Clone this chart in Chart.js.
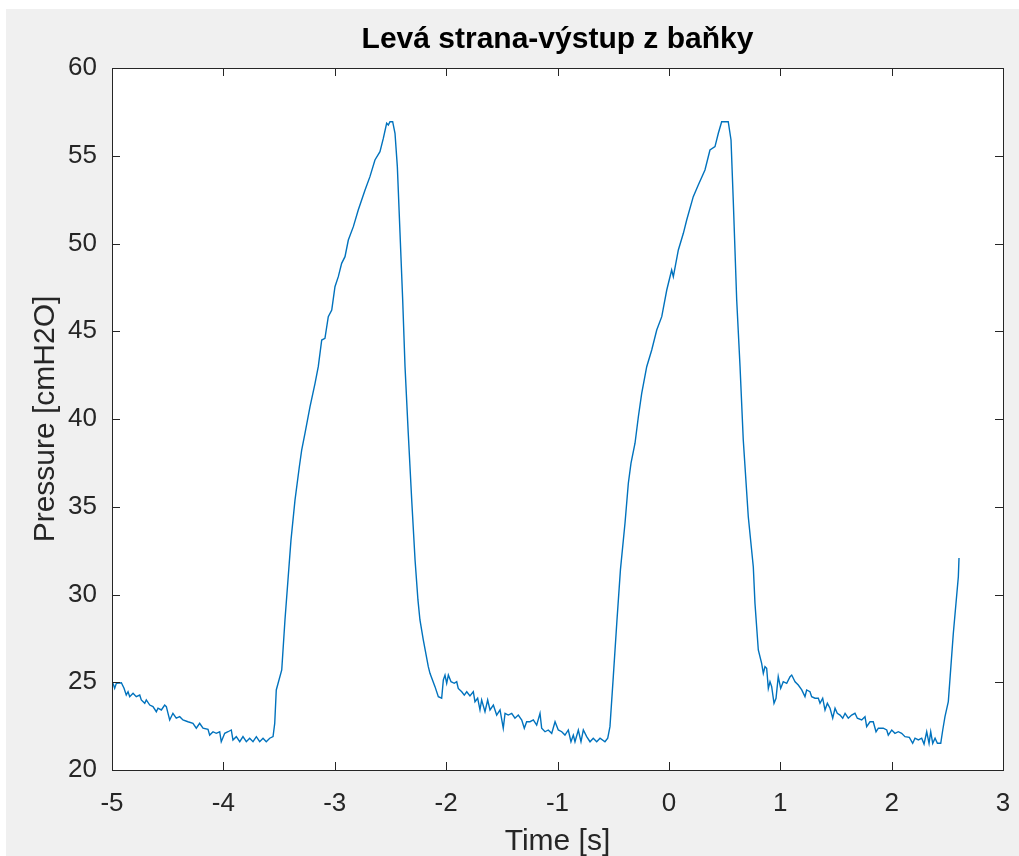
<!DOCTYPE html>
<html>
<head>
<meta charset="utf-8">
<title>Levá strana-výstup z baňky</title>
<script src="https://cdn.jsdelivr.net/npm/chart.js@4.4.0/dist/chart.umd.min.js"></script>
<style>
html, body { margin: 0; padding: 0; background: #fff; }
#wrap { position: absolute; left: 6px; top: 9px; width: 1013px; height: 847px; background: #f0f0f0; }
</style>
</head>
<body>
<div id="wrap"><canvas id="chart" width="1013" height="847"></canvas></div>
<script>
// cas [s]
const timeS = [
  // klidova faze 1
  -5.000,-4.991,-4.976,-4.961,-4.916,-4.892,-4.872,-4.856,-4.841,-4.811,
  -4.782,-4.751,-4.737,-4.706,-4.692,-4.661,-4.632,-4.602,-4.587,-4.557,
  -4.527,-4.512,-4.497,-4.482,-4.453,-4.423,-4.392,-4.363,-4.318,-4.273,
  -4.243,-4.213,-4.183,-4.138,-4.123,-4.093,-4.064,-4.033,-4.019,-3.988,
  -3.958,-3.929,-3.914,-3.884,-3.853,-3.824,-3.794,-3.764,-3.734,-3.704,
  -3.674,-3.644,-3.615,-3.584,-3.554,-3.539,-3.525,
  // nadech 1
  -3.476,-3.447,-3.420,-3.393,-3.357,-3.318,-3.297,-3.267,-3.222,-3.177,
  -3.148,-3.117,-3.088,-3.058,-3.027,-2.998,-2.968,-2.938,-2.908,-2.878,
  -2.833,-2.789,-2.728,-2.684,-2.639,-2.594,-2.564,-2.534,-2.519,-2.504,
  -2.480,-2.459,-2.438,-2.414,-2.390,-2.369,-2.340,-2.309,-2.279,-2.253,
  -2.235,-2.205,-2.160,-2.145,-2.100,-2.070,-2.040,
  // klidova faze 2
  -2.025,-2.010,-1.995,-1.980,-1.956,-1.927,-1.905,-1.891,-1.860,-1.837,
  -1.815,-1.786,-1.756,-1.741,-1.717,-1.696,-1.681,-1.651,-1.627,-1.606,
  -1.576,-1.546,-1.516,-1.487,-1.471,-1.442,-1.411,-1.382,-1.352,-1.321,
  -1.298,-1.277,-1.247,-1.217,-1.187,-1.157,-1.142,-1.112,-1.083,-1.052,
  -1.022,-0.993,-0.962,-0.933,-0.903,-0.879,-0.858,-0.843,-0.813,-0.789,
  -0.768,-0.738,-0.708,-0.679,-0.648,-0.618,-0.574,-0.549,-0.529,-0.499,
  // nadech 2
  -0.466,-0.435,-0.394,-0.364,-0.340,-0.304,-0.274,-0.244,-0.199,-0.154,
  -0.109,-0.064,-0.019, 0.025, 0.040, 0.085, 0.130, 0.160, 0.219, 0.264,
   0.324, 0.369, 0.414, 0.444, 0.474, 0.533, 0.558, 0.578, 0.609, 0.639,
   0.668, 0.713, 0.758,
  // klidova faze 3 + zacatek dalsiho nadechu
   0.773, 0.803, 0.833, 0.848, 0.863, 0.878, 0.893, 0.908, 0.923, 0.944,
   0.962, 0.982, 1.004, 1.027, 1.058, 1.088, 1.103, 1.133, 1.162, 1.193,
   1.222, 1.237, 1.267, 1.282, 1.312, 1.342, 1.357, 1.381, 1.402, 1.423,
   1.447, 1.471, 1.492, 1.512, 1.537, 1.561, 1.582, 1.611, 1.641, 1.671,
   1.692, 1.731, 1.761, 1.776, 1.806, 1.835, 1.860, 1.881, 1.925, 1.956,
   1.970, 2.001, 2.030, 2.060, 2.090, 2.120, 2.159, 2.189, 2.210, 2.240,
   2.270, 2.291, 2.315, 2.336, 2.351, 2.369, 2.390, 2.411, 2.441, 2.459,
   2.479, 2.509, 2.554, 2.599, 2.605
];

// tlak [cmH2O]
const pressure = [
  24.90,24.94,24.66,24.94,24.97,24.66,24.27,24.46,24.18,24.37,
  24.18,24.27,23.99,23.80,23.99,23.70,23.61,23.32,23.52,23.42,
  23.70,23.61,23.23,22.85,23.23,22.95,23.04,22.85,22.75,22.66,
  22.38,22.66,22.38,22.32,21.99,22.18,22.09,22.18,21.61,22.09,
  22.18,22.28,21.71,21.90,21.61,21.90,21.61,21.81,21.61,21.90,
  21.61,21.81,21.61,21.81,21.90,22.66,24.56,

  25.70,28.55,30.83,33.10,35.38,37.28,38.23,39.19,40.70,42.03,
  42.98,44.50,44.60,45.83,46.21,47.54,48.11,48.87,49.25,50.20,
  50.96,51.91,53.05,53.81,54.76,55.23,55.99,56.85,56.75,56.94,
  56.94,56.28,54.38,50.58,46.78,42.98,39.19,35.38,31.97,29.69,
  28.55,27.41,25.89,25.51,24.75,24.18,24.09,

  25.13,25.41,24.94,25.41,25.03,24.94,25.03,24.65,24.46,24.27,
  24.46,24.22,24.46,23.89,24.09,23.42,23.99,23.32,23.99,23.42,
  23.70,23.13,23.42,22.38,23.23,23.13,23.23,22.95,23.13,22.85,
  22.38,22.75,22.75,22.85,22.56,23.23,22.38,22.18,22.28,22.09,
  22.75,22.28,22.18,21.99,22.28,21.61,21.99,21.61,22.28,21.61,
  22.28,21.90,21.61,21.81,21.61,21.81,21.61,21.81,22.47,25.32,

  28.55,31.40,34.06,36.34,37.48,38.62,40.13,41.46,42.98,43.93,
  45.07,45.83,47.35,48.49,48.11,49.63,50.58,51.34,52.67,53.33,
  54.19,55.33,55.52,56.28,56.94,56.94,55.90,52.48,46.78,42.98,
  38.80,34.43,31.58,

  29.50,26.84,26.08,25.51,25.89,25.80,24.65,25.03,24.75,23.80,
  24.09,25.32,24.65,25.03,24.94,25.32,25.41,25.03,24.84,24.56,
  24.18,24.56,24.46,24.18,24.09,24.09,23.80,24.09,23.42,23.80,
  23.52,22.95,23.52,23.23,23.13,22.95,23.23,22.95,23.13,23.23,
  22.95,22.85,23.04,22.47,22.75,22.75,22.18,22.38,22.38,22.28,
  21.99,22.28,22.09,22.18,22.09,21.90,21.86,21.52,21.81,21.71,
  21.81,21.48,22.18,21.52,22.18,21.52,21.81,21.52,21.52,22.28,
  23.04,23.90,27.79,31.01,32.08
];

const xTicks = [-5, -4, -3, -2, -1, 0, 1, 2, 3];
const yTicks = [20, 25, 30, 35, 40, 45, 50, 55, 60];

const titleText = 'Levá strana-výstup z baňky';
const xLabel = 'Time [s]';
const yLabel = 'Pressure [cmH2O]';

const points = timeS.map((t, i) => ({ x: t, y: pressure[i] }));

// ramecek, tiky a popisky ve stylu MATLABu
const matlabAxes = {
  id: 'matlabAxes',
  beforeDraw(chart) {
    const { ctx, chartArea: a } = chart;
    ctx.save();
    ctx.fillStyle = '#f0f0f0';
    ctx.fillRect(0, 0, chart.width, chart.height);
    ctx.fillStyle = '#ffffff';
    ctx.fillRect(a.left, a.top, a.right - a.left, a.bottom - a.top);
    ctx.restore();
  },
  afterDraw(chart) {
    const { ctx, chartArea: a } = chart;
    const sx = chart.scales.x;
    const sy = chart.scales.y;
    const tickLen = 8;
    ctx.save();
    ctx.strokeStyle = '#262626';
    ctx.lineWidth = 1;
    ctx.strokeRect(a.left + 0.5, a.top + 0.5, a.right - a.left, a.bottom - a.top);

    ctx.beginPath();
    xTicks.forEach(v => {
      const px = Math.round(sx.getPixelForValue(v)) + 0.5;
      ctx.moveTo(px, a.bottom); ctx.lineTo(px, a.bottom - tickLen);
      ctx.moveTo(px, a.top); ctx.lineTo(px, a.top + tickLen);
    });
    yTicks.forEach(v => {
      const py = Math.round(sy.getPixelForValue(v)) + 0.5;
      ctx.moveTo(a.left, py); ctx.lineTo(a.left + tickLen, py);
      ctx.moveTo(a.right, py); ctx.lineTo(a.right - tickLen, py);
    });
    ctx.stroke();

    ctx.fillStyle = '#262626';
    ctx.font = '26px "Liberation Sans", Arial, sans-serif';
    ctx.textAlign = 'center';
    ctx.textBaseline = 'alphabetic';
    xTicks.forEach(v => {
      ctx.fillText(String(v), sx.getPixelForValue(v), a.bottom + 41);
    });
    ctx.textAlign = 'right';
    ctx.textBaseline = 'middle';
    yTicks.forEach(v => {
      ctx.fillText(String(v), a.left - 15, sy.getPixelForValue(v));
    });

    const cx = (a.left + a.right) / 2;
    const cy = (a.top + a.bottom) / 2;
    ctx.textAlign = 'center';
    ctx.textBaseline = 'alphabetic';
    ctx.font = '30px "Liberation Sans", Arial, sans-serif';
    ctx.fillText(xLabel, cx, a.bottom + 80);

    ctx.save();
    ctx.translate(48, cy);
    ctx.rotate(-Math.PI / 2);
    ctx.fillText(yLabel, 0, 0);
    ctx.restore();

    ctx.fillStyle = '#000000';
    ctx.font = 'bold 30px "Liberation Sans", Arial, sans-serif';
    ctx.fillText(titleText, cx, 39);
    ctx.restore();
  }
};

new Chart(document.getElementById('chart'), {
  type: 'line',
  data: {
    datasets: [{
      data: points,
      borderColor: '#0072BD',
      borderWidth: 1.4,
      pointRadius: 0,
      tension: 0,
      fill: false
    }]
  },
  options: {
    responsive: false,
    animation: false,
    layout: { padding: { left: 106, top: 59, right: 16, bottom: 86 } },
    plugins: {
      legend: { display: false },
      tooltip: { enabled: false },
      title: { display: false }
    },
    scales: {
      x: { type: 'linear', min: -5, max: 3, display: false },
      y: { min: 20, max: 60, display: false }
    }
  },
  plugins: [matlabAxes]
});
</script>
</body>
</html>
